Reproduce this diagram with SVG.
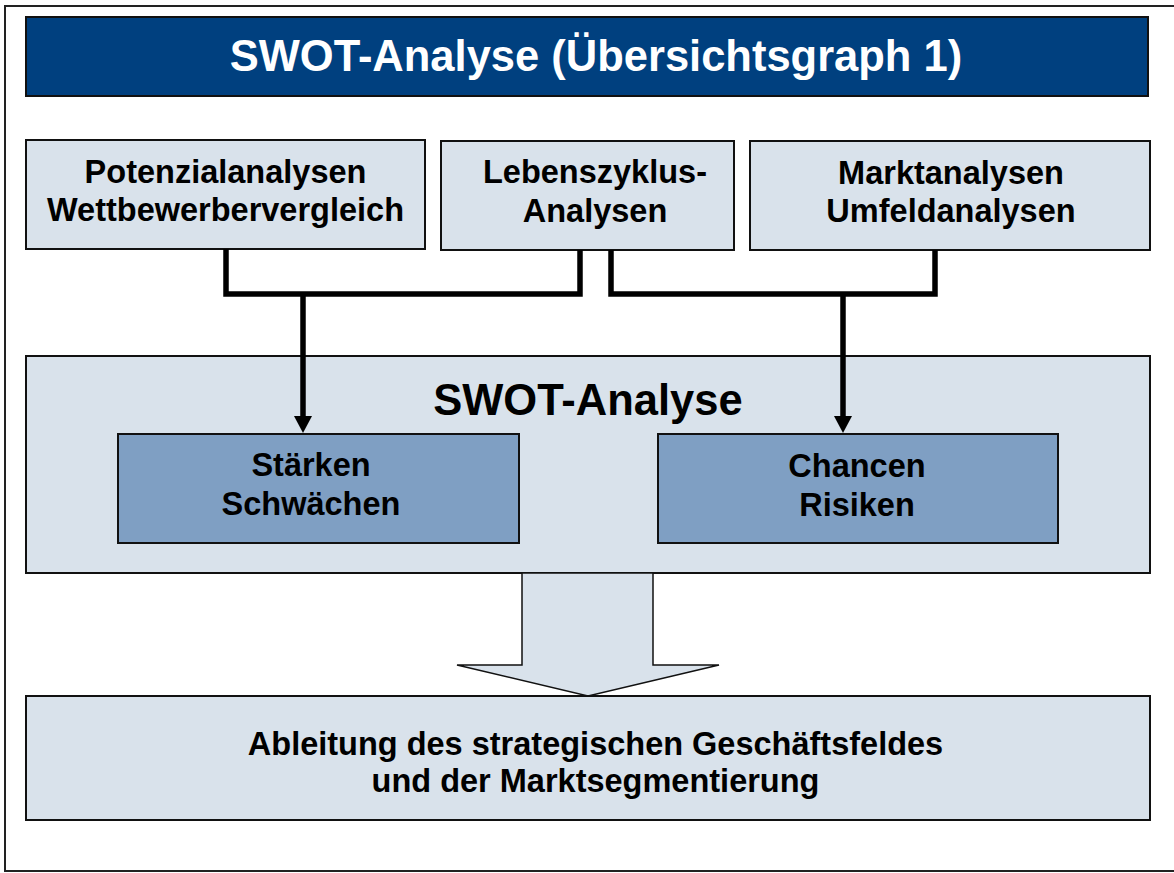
<svg xmlns="http://www.w3.org/2000/svg" width="1174" height="873" viewBox="0 0 1174 873">
  <style>
    .frame { fill: #ffffff; stroke: #222222; stroke-width: 2; }
    .light { fill: #D9E2EB; stroke: #111111; stroke-width: 2; }
    .mid { fill: #7F9FC3; stroke: #111111; stroke-width: 2; }
    .title { fill: #00407F; stroke: #111111; stroke-width: 2; }
    .conn { fill: none; stroke: #000000; stroke-width: 5.5; stroke-linejoin: miter; stroke-linecap: butt; }
    .big { fill: #D9E2EB; stroke: #111111; stroke-width: 1.5; stroke-linejoin: miter; }
    text { font-family: "Liberation Sans", Arial, Helvetica, sans-serif; font-weight: bold; text-anchor: middle; fill: #000000; }
    .t32 { font-size: 32.5px; }
    .t43 { font-size: 43.5px; }
    .white { fill: #ffffff; }
  </style>
  <defs>
    <marker id="ah" markerUnits="userSpaceOnUse" markerWidth="18" markerHeight="18" refX="0" refY="9" orient="auto">
      <path d="M0,0 L17,9 L0,18 Z" fill="#000000"/>
    </marker>
  </defs>

  <rect id="frame" class="frame" x="5" y="6" width="1175" height="865"/>

  <g id="title-bar">
    <rect class="title" x="26" y="17" width="1122" height="79"/>
    <text class="t43 white" x="596" y="71">SWOT-Analyse (Übersichtsgraph 1)</text>
  </g>

  <g id="node-potenzial">
    <rect class="light" x="26" y="140" width="399" height="109"/>
    <text class="t32" x="225.5" y="183">Potenzialanalysen</text>
    <text class="t32" x="225.5" y="221">Wettbewerbervergleich</text>
  </g>

  <g id="node-lebenszyklus">
    <rect class="light" x="441" y="141" width="293" height="109"/>
    <text class="t32" x="595" y="183">Lebenszyklus-</text>
    <text class="t32" x="595" y="222">Analysen</text>
  </g>

  <g id="node-markt">
    <rect class="light" x="750" y="141" width="400" height="109"/>
    <text class="t32" x="951" y="184">Marktanalysen</text>
    <text class="t32" x="951" y="222">Umfeldanalysen</text>
  </g>

  <g id="node-swot">
    <rect class="light" x="26" y="356" width="1124" height="217"/>
    <text class="t43" x="588" y="415">SWOT-Analyse</text>
  </g>

  <g id="node-staerken">
    <rect class="mid" x="118" y="434" width="401" height="109"/>
    <text class="t32" x="311" y="476">Stärken</text>
    <text class="t32" x="311" y="515">Schwächen</text>
  </g>

  <g id="node-chancen">
    <rect class="mid" x="658" y="434" width="400" height="109"/>
    <text class="t32" x="857" y="477">Chancen</text>
    <text class="t32" x="857" y="516">Risiken</text>
  </g>

  <g id="connectors">
    <path class="conn" d="M226,249 L226,294 L580,294 L580,250"/>
    <path class="conn" d="M303,294 L303,416" marker-end="url(#ah)"/>
    <path class="conn" d="M611,250 L611,294 L935,294 L935,250"/>
    <path class="conn" d="M843,294 L843,416" marker-end="url(#ah)"/>
    <path class="big" d="M522,573 L653,573 L653,665 L719,665 L588,696 L457,665 L522,665 Z"/>
  </g>

  <g id="node-ableitung">
    <rect class="light" x="26" y="696" width="1124" height="124"/>
    <text class="t32" x="595.5" y="755">Ableitung des strategischen Geschäftsfeldes</text>
    <text class="t32" x="595.5" y="792">und der Marktsegmentierung</text>
  </g>
</svg>
